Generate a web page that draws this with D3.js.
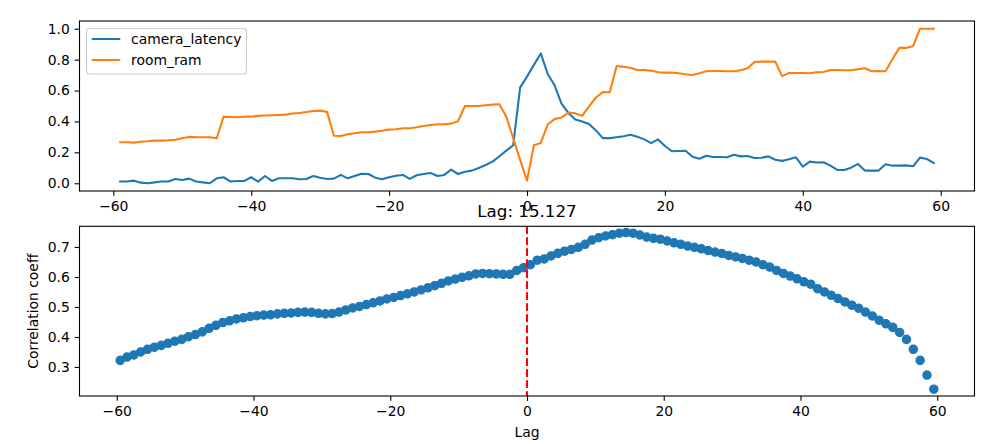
<!DOCTYPE html>
<html>
<head>
<meta charset="utf-8">
<script src="https://cdn.jsdelivr.net/npm/d3@7"></script>
<style>
  html, body { margin: 0; padding: 0; background: #fff; }
  svg text { font-family: "DejaVu Sans", sans-serif; fill: #000; }
</style>
</head>
<body>
<svg id="chart" width="993" height="444"></svg>
<script>
// ---------------- data ----------------
const seriesNames = ["camera_latency", "room_ram"];
const seriesColors = ["#1f77b4", "#ff7f0e"];

const lagsTop = d3.range(-59, 60); // integer lags -59 … 59

const cameraLatency = [
  0.011, 0.011, 0.017, 0.004, 0.000, 0.006, 0.011, 0.011, 0.028, 0.021,
  0.030, 0.011, 0.006, 0.000, 0.032, 0.039, 0.011, 0.015, 0.015, 0.039,
  0.011, 0.047, 0.015, 0.032, 0.032, 0.032, 0.026, 0.028, 0.047, 0.036,
  0.028, 0.030, 0.054, 0.032, 0.047, 0.062, 0.060, 0.036, 0.026, 0.039,
  0.049, 0.054, 0.028, 0.052, 0.060, 0.067, 0.047, 0.054, 0.088, 0.060,
  0.075, 0.082, 0.099, 0.118, 0.140, 0.175, 0.211, 0.246, 0.619, 0.690,
  0.766, 0.840, 0.707, 0.634, 0.515, 0.455, 0.412, 0.400, 0.384, 0.342,
  0.292, 0.292, 0.298, 0.304, 0.314, 0.301, 0.284, 0.260, 0.284, 0.241,
  0.207, 0.209, 0.211, 0.172, 0.159, 0.178, 0.170, 0.170, 0.168, 0.185,
  0.174, 0.176, 0.163, 0.165, 0.174, 0.152, 0.145, 0.155, 0.168, 0.107,
  0.140, 0.134, 0.136, 0.114, 0.086, 0.086, 0.101, 0.125, 0.082, 0.082,
  0.082, 0.123, 0.114, 0.114, 0.116, 0.110, 0.166, 0.157, 0.131
];

const roomRam = [
  0.265, 0.265, 0.263, 0.269, 0.272, 0.276, 0.276, 0.278, 0.282, 0.291,
  0.300, 0.298, 0.298, 0.298, 0.291, 0.431, 0.429, 0.427, 0.431, 0.431,
  0.436, 0.438, 0.440, 0.442, 0.444, 0.451, 0.455, 0.461, 0.468, 0.470,
  0.462, 0.308, 0.306, 0.317, 0.324, 0.330, 0.330, 0.334, 0.340, 0.347,
  0.349, 0.356, 0.356, 0.362, 0.371, 0.377, 0.382, 0.382, 0.386, 0.401,
  0.500, 0.500, 0.500, 0.505, 0.509, 0.511, 0.431, 0.291, 0.151, 0.017,
  0.246, 0.261, 0.380, 0.415, 0.425, 0.457, 0.453, 0.436, 0.497, 0.555,
  0.590, 0.589, 0.759, 0.753, 0.748, 0.733, 0.733, 0.729, 0.718, 0.716,
  0.716, 0.712, 0.705, 0.701, 0.712, 0.725, 0.727, 0.727, 0.725, 0.725,
  0.731, 0.744, 0.785, 0.787, 0.787, 0.787, 0.693, 0.714, 0.714, 0.714,
  0.712, 0.718, 0.720, 0.733, 0.733, 0.731, 0.731, 0.738, 0.744, 0.725,
  0.727, 0.725, 0.803, 0.876, 0.876, 0.889, 1.000, 1.000, 1.000
];

const lagsBottom = d3.range(-59.5, 60, 1); // -59.5 … 59.5

const corrCoeff = [
  0.322, 0.333, 0.340, 0.350, 0.359, 0.366, 0.372, 0.379, 0.386, 0.392,
  0.401, 0.408, 0.417, 0.429, 0.439, 0.448, 0.454, 0.460, 0.464, 0.468,
  0.471, 0.473, 0.474, 0.477, 0.479, 0.480, 0.482, 0.483, 0.482, 0.479,
  0.477, 0.478, 0.483, 0.490, 0.497, 0.502, 0.508, 0.514, 0.520, 0.527,
  0.532, 0.538, 0.544, 0.550, 0.557, 0.564, 0.571, 0.579, 0.587, 0.593,
  0.599, 0.604, 0.610, 0.612, 0.611, 0.610, 0.609, 0.609, 0.622, 0.631,
  0.641, 0.656, 0.660, 0.670, 0.679, 0.686, 0.692, 0.699, 0.709, 0.723,
  0.731, 0.737, 0.741, 0.746, 0.748, 0.746, 0.740, 0.733, 0.729, 0.726,
  0.720, 0.714, 0.709, 0.703, 0.699, 0.694, 0.688, 0.683, 0.678, 0.672,
  0.667, 0.662, 0.656, 0.650, 0.641, 0.633, 0.622, 0.612, 0.603, 0.594,
  0.584, 0.576, 0.561, 0.550, 0.539, 0.528, 0.517, 0.506, 0.496, 0.483,
  0.470, 0.456, 0.444, 0.432, 0.415, 0.392, 0.359, 0.322, 0.273, 0.226
];

const xTicks = [-60, -40, -20, 0, 20, 40, 60];
const yTicksTop = [0.0, 0.2, 0.4, 0.6, 0.8, 1.0];
const yTicksBottom = [0.3, 0.4, 0.5, 0.6, 0.7];
const markerLag = 0;
const titleText = "Lag: 15.127";
const xLabelText = "Lag";
const yLabelText = "Correlation coeff";

// ---------------- layout ----------------
const svg = d3.select("#chart");
const FS = 13.9;           // 10pt
const TICK = 4.86;         // 3.5pt
const LW = 2.08;           // 1.5pt
const axLeft = 79.5, axRight = 974.5;
const top1 = { y0: 21, y1: 191 };
const top2 = { y0: 226.3, y1: 396 };

const fmtY = d3.format(".1f");
const fmtX = d3.format("d");

function styleAxis(g) {
  g.select(".domain").remove();
  g.selectAll(".tick line").attr("stroke", "#000").attr("stroke-width", 1.1);
  g.selectAll(".tick text").style("font-size", FS + "px").attr("fill", "#000");
}

function frame(y0, y1) {
  svg.append("rect")
    .attr("x", axLeft).attr("y", y0)
    .attr("width", axRight - axLeft).attr("height", y1 - y0)
    .attr("fill", "none").attr("stroke", "#000").attr("stroke-width", 1.1);
}

// ---------------- top panel ----------------
const x1 = d3.scaleLinear().domain([-64.9, 64.9]).range([axLeft, axRight]);
const y1 = d3.scaleLinear().domain([-0.05, 1.05]).range([top1.y1, top1.y0]);

svg.append("g").attr("transform", `translate(0,${top1.y1})`)
  .call(d3.axisBottom(x1).tickValues(xTicks).tickFormat(fmtX).tickSize(TICK).tickPadding(4.86))
  .call(styleAxis);
svg.append("g").attr("transform", `translate(${axLeft},0)`)
  .call(d3.axisLeft(y1).tickValues(yTicksTop).tickFormat(fmtY).tickSize(TICK).tickPadding(4.86))
  .call(styleAxis);

const topSeries = [cameraLatency, roomRam];
const line1 = d3.line().x((d, i) => x1(lagsTop[i])).y(d => y1(d));
topSeries.forEach((s, k) => {
  svg.append("path").datum(s)
    .attr("d", line1)
    .attr("fill", "none")
    .attr("stroke", seriesColors[k])
    .attr("stroke-width", LW)
    .attr("stroke-linejoin", "round")
    .attr("stroke-linecap", "square");
});
frame(top1.y0, top1.y1);

// legend
const lg = svg.append("g").attr("transform", "translate(86.5,28.5)");
lg.append("rect").attr("width", 160).attr("height", 45.5).attr("rx", 2.8)
  .attr("fill", "#fff").attr("fill-opacity", 0.8)
  .attr("stroke", "#cccccc").attr("stroke-width", 1.1);
seriesNames.forEach((n, k) => {
  const yy = 10.5 + k * 21;
  lg.append("line").attr("x1", 5.2).attr("x2", 33.8).attr("y1", yy).attr("y2", yy)
    .attr("stroke", seriesColors[k]).attr("stroke-width", LW);
  lg.append("text").attr("x", 44.5).attr("y", yy).attr("dy", "0.35em")
    .style("font-size", FS + "px").text(n);
});

// ---------------- bottom panel ----------------
const x2 = d3.scaleLinear().domain([-65.45, 65.45]).range([axLeft, axRight]);
const y2 = d3.scaleLinear().domain([0.2033, 0.769]).range([top2.y1, top2.y0]);

svg.append("g").attr("transform", `translate(0,${top2.y1})`)
  .call(d3.axisBottom(x2).tickValues(xTicks).tickFormat(fmtX).tickSize(TICK).tickPadding(4.86))
  .call(styleAxis);
svg.append("g").attr("transform", `translate(${axLeft},0)`)
  .call(d3.axisLeft(y2).tickValues(yTicksBottom).tickFormat(fmtY).tickSize(TICK).tickPadding(4.86))
  .call(styleAxis);

svg.append("g").selectAll("circle").data(corrCoeff).join("circle")
  .attr("cx", (d, i) => x2(lagsBottom[i]))
  .attr("cy", d => y2(d))
  .attr("r", 4.17)
  .attr("fill", "#1f77b4")
  .attr("stroke", "#1f77b4")
  .attr("stroke-width", 1.2);

svg.append("line")
  .attr("x1", x2(markerLag)).attr("x2", x2(markerLag))
  .attr("y1", top2.y0).attr("y2", top2.y1)
  .attr("stroke", "red").attr("stroke-width", LW)
  .attr("stroke-dasharray", "7.7,3.3");

frame(top2.y0, top2.y1);

// title and labels
svg.append("text").attr("x", (axLeft + axRight) / 2).attr("y", 217)
  .attr("text-anchor", "middle").style("font-size", "16.7px").text(titleText);
svg.append("text").attr("x", (axLeft + axRight) / 2).attr("y", 437)
  .attr("text-anchor", "middle").style("font-size", FS + "px").text(xLabelText);
svg.append("text")
  .attr("transform", `translate(38,${(top2.y0 + top2.y1) / 2}) rotate(-90)`)
  .attr("text-anchor", "middle").style("font-size", FS + "px").text(yLabelText);
</script>
</body>
</html>
